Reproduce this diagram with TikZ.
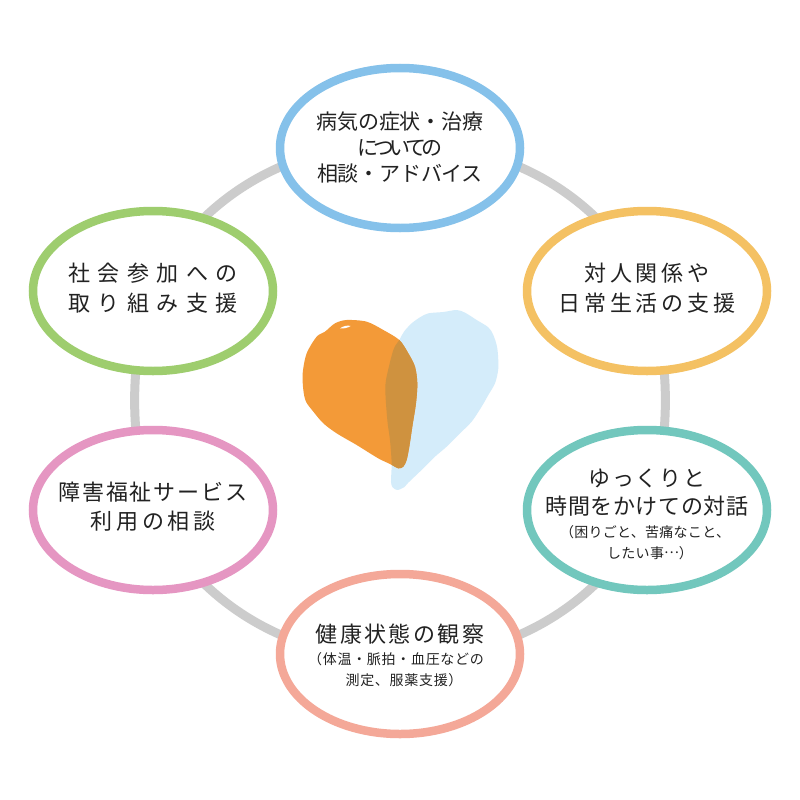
\documentclass[tikz,border=0pt]{standalone}
\usepackage{fontspec}
\setmainfont{Noto Sans CJK JP}
\usetikzlibrary{shapes.geometric,backgrounds}
\definecolor{ringgray}{HTML}{CCCCCC}
\definecolor{cblue}{HTML}{85C1EA}
\definecolor{cyellow}{HTML}{F4C163}
\definecolor{cteal}{HTML}{72C7BD}
\definecolor{csalmon}{HTML}{F4A898}
\definecolor{cpink}{HTML}{E596C2}
\definecolor{cgreen}{HTML}{9ECD6E}
\definecolor{hblue}{HTML}{D4ECFA}
\definecolor{horange}{HTML}{F39A38}
\definecolor{hmix}{HTML}{CF923F}
\definecolor{ink}{HTML}{222222}
\newcommand{\mybig}[2]{{\fontsize{22}{20}\addfontfeature{LetterSpace=#1}\selectfont #2}}
\newcommand{\mytop}[2]{{\fontsize{21}{20}\addfontfeature{LetterSpace=#1}\selectfont #2}}
\newcommand{\mysmall}[2]{{\fontsize{14}{14}\addfontfeature{LetterSpace=#1}\selectfont #2}}
\newcommand{\fulldots}{\raisebox{.3em}{…}}
\tikzset{
  bubble/.style={ellipse,draw=#1,line width=8.5pt,fill=white,minimum width=240pt,minimum height=160pt,inner sep=0pt},
  bubbletext/.style={align=center,text=ink,inner sep=0pt,font=\fontsize{20}{20}\selectfont},
  ringarc/.style={draw=ringgray,line width=9pt}
}
\begin{document}
\begin{tikzpicture}[x=1pt,y=-1pt]
\useasboundingbox (0,0) rectangle (800,800);
\node[bubble=cblue] (top) at (400,148) {};
\node[bubble=cyellow] (ur) at (647,291) {};
\node[bubble=cteal] (lr) at (647,510) {};
\node[bubble=csalmon] (bot) at (400,654) {};
\node[bubble=cpink] (ll) at (153,510) {};
\node[bubble=cgreen] (ul) at (153,291) {};
\begin{scope}[on background layer]
\fill[white] (0,0) rectangle (800,800);
\draw[ringarc] (top.center) to[bend left=37,looseness=.9] (ur.center);
\draw[ringarc] (ur.center) to[bend left=21,looseness=.8] (lr.center);
\draw[ringarc] (lr.center) to[bend left=37,looseness=.9] (bot.center);
\draw[ringarc] (bot.center) to[bend left=37,looseness=.9] (ll.center);
\draw[ringarc] (ll.center) to[bend left=21,looseness=.8] (ul.center);
\draw[ringarc] (ul.center) to[bend left=37,looseness=.9] (top.center);
\end{scope}
\node[bubbletext] (toptext) at (400,148) {\mytop{-1}{病気の症状・治療}\\[6pt]\mytop{-22}{についての}\\[6pt]\mytop{-1}{相談・アドバイス}};
\node[bubbletext] (urtext) at (647,288) {\mybig{18}{対人関係や}\\[9pt]\mybig{18}{日常生活の支援}};
\node[bubbletext] (ultext) at (153,288) {\mybig{34}{社会参加への}\\[9pt]\mybig{34}{取り組み支援}};
\node[bubbletext] (lltext) at (153,507) {\mybig{9}{障害福祉サービス}\\[8pt]\mybig{18}{利用の相談}};
\node[bubbletext] (lrtext) at (647,514) {\mybig{9}{ゆっくりと}\\[8pt]\mybig{3}{時間をかけての対話}\\[3pt]\mysmall{2}{（困りごと、苦痛なこと、\hspace*{4pt}\mbox{}}\\[1pt]\mysmall{2}{\hspace*{6pt}したい事\fulldots）}};
\node[bubbletext] (bottext) at (400,655) {\mybig{11}{健康状態の観察}\\[2pt]\mysmall{5}{（体温・脈拍・血圧などの\hspace*{8pt}\mbox{}}\\[1pt]\mysmall{5}{\hspace*{8pt}測定、服薬支援）}};
\begin{scope}[shift={(280,290)},x=.3333pt,y=-.3333pt]
\def\blueheart{plot[smooth cycle,tension=.5] coordinates {(358,150) (372,125) (395,100) (420,82) (445,70) (490,66) (530,60) (555,68) (590,90) (625,112) (640,135) (652,175) (655,235) (645,280) (625,315) (605,350) (575,395) (540,430) (500,470) (465,500) (430,535) (385,578) (372,592) (352,600) (338,592) (333,575) (335,520) (330,450) (322,390) (316,290) (328,225) (342,175)}}
\def\orangeheart{plot[smooth cycle,tension=.5] coordinates {(358,150) (385,190) (405,230) (412,280) (408,340) (397,410) (388,470) (380,510) (370,530) (355,535) (330,522) (300,508) (270,490) (230,465) (170,430) (130,400) (100,365) (78,335) (70,300) (68,250) (80,190) (110,140) (135,125) (165,100) (200,90) (260,95) (310,120)}}
\fill[hblue] \blueheart;
\fill[horange] \orangeheart;
\begin{scope}
\clip \orangeheart;
\fill[hmix] \blueheart;
\end{scope}
\fill[white] (180,115) .. controls (190,108) and (203,105) .. (212,108) .. controls (205,113) and (190,117) .. (180,115) -- cycle;
\end{scope}
\end{tikzpicture}
\end{document}
